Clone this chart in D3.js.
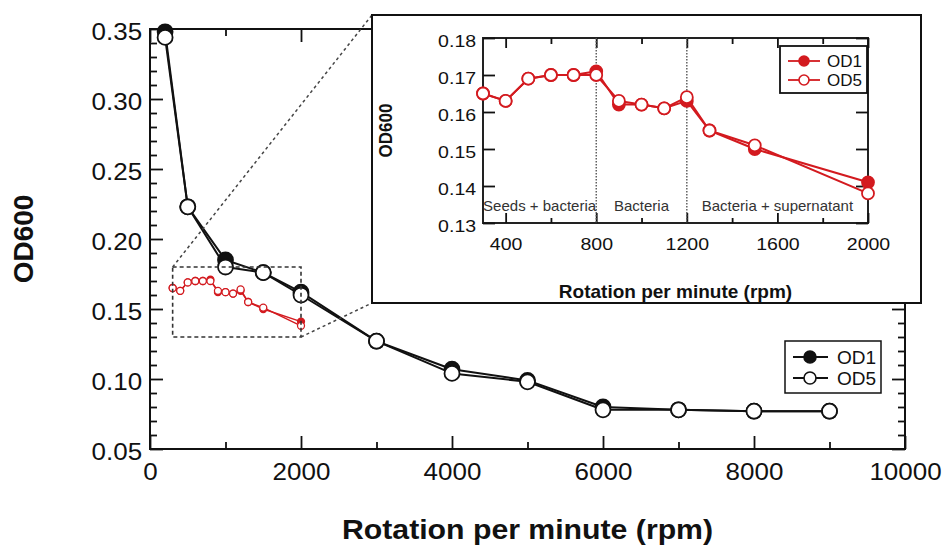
<!DOCTYPE html>
<html>
<head>
<meta charset="utf-8">
<script src="https://cdn.jsdelivr.net/npm/d3@7"></script>
<style>
  body { margin: 0; background: #fff; }
  svg { display: block; font-family: "Liberation Sans", Arial, Helvetica, sans-serif; }
</style>
</head>
<body>
<div id="chart"></div>
<script>
// Values
const rpmMain = [200, 500, 1000, 1500, 2000, 3000, 4000, 5000, 6000, 7000, 8000, 9000];
const od1Main = [0.348, 0.223, 0.185, 0.176, 0.162, 0.127, 0.107, 0.099, 0.080, 0.078, 0.077, 0.077];
const od5Main = [0.344, 0.223, 0.180, 0.176, 0.160, 0.127, 0.104, 0.098, 0.078, 0.078, 0.077, 0.077];

const rpmZoom = [300, 400, 500, 600, 700, 800, 900, 1000, 1100, 1200, 1300, 1500, 2000];
const od1Zoom = [0.165, 0.163, 0.169, 0.170, 0.170, 0.171, 0.162, 0.162, 0.161, 0.163, 0.155, 0.150, 0.141];
const od5Zoom = [0.165, 0.163, 0.169, 0.170, 0.170, 0.170, 0.163, 0.162, 0.161, 0.164, 0.155, 0.151, 0.138];

const mainXTicks = [0, 2000, 4000, 6000, 8000, 10000];
const mainXMinor = [1000, 3000, 5000, 7000, 9000];
const mainYTicks = [0.05, 0.10, 0.15, 0.20, 0.25, 0.30, 0.35];
const zoomXTicks = [400, 800, 1200, 1600, 2000];
const zoomXMinor = [600, 1000, 1400, 1800];
const zoomYTicks = [0.13, 0.14, 0.15, 0.16, 0.17, 0.18];
const phaseBreaks = [300, 800, 1200, 2000];
const phaseLabels = ["Seeds + bacteria", "Bacteria", "Bacteria + supernatant"];
const seriesNames = ["OD1", "OD5"];

const red = "#d31a1f";
const ink = "#111";

const svg = d3.select("#chart").append("svg")
    .attr("width", 944)
    .attr("height", 546);

// ---------- main plot ----------
const m = {left: 150, right: 905, top: 29, bottom: 449};
const x = d3.scaleLinear().domain([0, 10000]).range([m.left, m.right]);
const y = d3.scaleLinear().domain([0.05, 0.35]).range([m.bottom, m.top]);

const mainYMinor = d3.range(5, 35).filter(i => i % 5 !== 0).map(i => i / 100);

function styleAxis(sel, size, stretch) {
    sel.select(".domain").remove();
    sel.selectAll("line").attr("stroke", ink).attr("stroke-width", 1.8);
    sel.selectAll("text")
        .attr("fill", ink)
        .attr("font-size", size)
        .attr("font-family", "Liberation Sans, Arial, sans-serif")
        .attr("transform", `scale(${stretch},1)`);
}

const main = svg.append("g");

main.append("rect")
    .attr("x", m.left).attr("y", m.top)
    .attr("width", m.right - m.left).attr("height", m.bottom - m.top)
    .attr("fill", "none").attr("stroke", ink).attr("stroke-width", 2);

main.append("g").attr("transform", `translate(0,${m.bottom})`)
    .call(d3.axisBottom(x).tickValues(mainXTicks).tickSizeInner(-13).tickSizeOuter(0)
        .tickPadding(15).tickFormat(d3.format("d")))
    .call(g => styleAxis(g, 23, 1.13));
main.append("g").attr("transform", `translate(0,${m.bottom})`)
    .call(d3.axisBottom(x).tickValues(mainXMinor).tickSizeInner(-7).tickSizeOuter(0).tickFormat(""))
    .call(g => styleAxis(g, 23, 1));
main.append("g").attr("transform", `translate(0,${m.top})`)
    .call(d3.axisTop(x).tickValues(mainXTicks).tickSizeInner(-13).tickSizeOuter(0).tickFormat(""))
    .call(g => styleAxis(g, 23, 1));
main.append("g").attr("transform", `translate(0,${m.top})`)
    .call(d3.axisTop(x).tickValues(mainXMinor).tickSizeInner(-7).tickSizeOuter(0).tickFormat(""))
    .call(g => styleAxis(g, 23, 1));

main.append("g").attr("transform", `translate(${m.left},0)`)
    .call(d3.axisLeft(y).tickValues(mainYTicks).tickSizeInner(-13).tickSizeOuter(0)
        .tickPadding(7).tickFormat(d3.format(".2f")))
    .call(g => styleAxis(g, 23, 1.13))
    .call(g => g.selectAll("text").attr("dy", "0.45em"));
main.append("g").attr("transform", `translate(${m.left},0)`)
    .call(d3.axisLeft(y).tickValues(mainYMinor).tickSizeInner(-7).tickSizeOuter(0).tickFormat(""))
    .call(g => styleAxis(g, 23, 1));
main.append("g").attr("transform", `translate(${m.right},0)`)
    .call(d3.axisRight(y).tickValues(mainYTicks).tickSizeInner(-13).tickSizeOuter(0).tickFormat(""))
    .call(g => styleAxis(g, 23, 1));
main.append("g").attr("transform", `translate(${m.right},0)`)
    .call(d3.axisRight(y).tickValues(mainYMinor).tickSizeInner(-7).tickSizeOuter(0).tickFormat(""))
    .call(g => styleAxis(g, 23, 1));

main.append("text")
    .attr("transform", `translate(${(m.left + m.right) / 2},539) scale(1.08,1)`)
    .attr("text-anchor", "middle")
    .attr("font-size", 28).attr("font-weight", "bold").attr("fill", ink)
    .text("Rotation per minute (rpm)");
main.append("text")
    .attr("transform", `translate(33,${(m.top + m.bottom) / 2}) rotate(-90)`)
    .attr("text-anchor", "middle")
    .attr("font-size", 28).attr("font-weight", "bold").attr("fill", ink)
    .text("OD600");

function drawSeries(g, xs, ys, xv, vals, color, filled, r, lw) {
    const line = d3.line().x((d, i) => xs(xv[i])).y(d => ys(d));
    g.append("path")
        .attr("d", line(vals))
        .attr("fill", "none").attr("stroke", color).attr("stroke-width", lw)
        .attr("stroke-linejoin", "round");
    g.append("g").selectAll("circle")
        .data(vals)
        .join("circle")
        .attr("cx", (d, i) => xs(xv[i]))
        .attr("cy", d => ys(d))
        .attr("r", r)
        .attr("fill", filled ? color : "#fff")
        .attr("stroke", color)
        .attr("stroke-width", lw * 0.9);
}

drawSeries(main, x, y, rpmMain, od1Main, ink, true, 7.5, 2);
drawSeries(main, x, y, rpmMain, od5Main, ink, false, 7.5, 2);

// zoomed data shown at the main scale
drawSeries(main, x, y, rpmZoom, od1Zoom, red, true, 3.5, 1.4);
drawSeries(main, x, y, rpmZoom, od5Zoom, red, false, 3.5, 1.4);

// zoom box and connectors
const zx0 = x(rpmZoom[0]), zx1 = x(2000), zy0 = y(0.18), zy1 = y(0.13);
main.append("rect")
    .attr("x", zx0).attr("y", zy0)
    .attr("width", zx1 - zx0).attr("height", zy1 - zy0)
    .attr("fill", "none").attr("stroke", "#333").attr("stroke-width", 1.6)
    .attr("stroke-dasharray", "4,3");

// main legend
const leg = main.append("g");
leg.append("rect").attr("x", 785).attr("y", 341).attr("width", 96).attr("height", 52)
    .attr("fill", "#fff").attr("stroke", ink).attr("stroke-width", 1.5);
seriesNames.forEach((name, i) => {
    const ly = 357 + i * 21;
    leg.append("line").attr("x1", 793).attr("x2", 828).attr("y1", ly).attr("y2", ly)
        .attr("stroke", ink).attr("stroke-width", 1.8);
    leg.append("circle").attr("cx", 810).attr("cy", ly).attr("r", 6)
        .attr("fill", i === 0 ? ink : "#fff").attr("stroke", ink).attr("stroke-width", 1.6);
    leg.append("text").attr("x", 837).attr("y", ly + 7)
        .attr("font-size", 19).attr("fill", ink).text(name);
});

// ---------- inset ----------
const box = {left: 372, right: 921, top: 15, bottom: 303};
const im = {left: 483, right: 868, top: 38, bottom: 223};

main.append("line").attr("x1", zx0).attr("y1", zy0).attr("x2", box.left).attr("y2", box.top)
    .attr("stroke", "#444").attr("stroke-width", 1.5).attr("stroke-dasharray", "3,3");
main.append("line").attr("x1", zx1).attr("y1", zy1).attr("x2", box.left).attr("y2", box.bottom)
    .attr("stroke", "#444").attr("stroke-width", 1.5).attr("stroke-dasharray", "3,3");

const inset = svg.append("g");
inset.append("rect")
    .attr("x", box.left).attr("y", box.top)
    .attr("width", box.right - box.left).attr("height", box.bottom - box.top)
    .attr("fill", "#fff").attr("stroke", ink).attr("stroke-width", 2);

const xi = d3.scaleLinear().domain([300, 2000]).range([im.left, im.right]);
const yi = d3.scaleLinear().domain([0.13, 0.18]).range([im.bottom, im.top]);

inset.append("rect")
    .attr("x", im.left).attr("y", im.top)
    .attr("width", im.right - im.left).attr("height", im.bottom - im.top)
    .attr("fill", "none").attr("stroke", "#222").attr("stroke-width", 2);

inset.append("g").attr("transform", `translate(0,${im.bottom})`)
    .call(d3.axisBottom(xi).tickValues(zoomXTicks).tickSizeInner(-10).tickSizeOuter(0)
        .tickPadding(15).tickFormat(d3.format("d")))
    .call(g => styleAxis(g, 17, 1.15));
inset.append("g").attr("transform", `translate(0,${im.bottom})`)
    .call(d3.axisBottom(xi).tickValues(zoomXMinor).tickSizeInner(-5).tickSizeOuter(0).tickFormat(""))
    .call(g => styleAxis(g, 17, 1));
inset.append("g").attr("transform", `translate(0,${im.top})`)
    .call(d3.axisTop(xi).tickValues(zoomXTicks).tickSizeInner(-10).tickSizeOuter(0).tickFormat(""))
    .call(g => styleAxis(g, 17, 1));
inset.append("g").attr("transform", `translate(0,${im.top})`)
    .call(d3.axisTop(xi).tickValues(zoomXMinor).tickSizeInner(-6).tickSizeOuter(0).tickFormat(""))
    .call(g => styleAxis(g, 17, 1));
inset.append("g").attr("transform", `translate(${im.left},0)`)
    .call(d3.axisLeft(yi).tickValues(zoomYTicks).tickSizeInner(-12).tickSizeOuter(0)
        .tickPadding(6).tickFormat(d3.format(".2f")))
    .call(g => styleAxis(g, 17, 1.15))
    .call(g => g.selectAll("text").attr("dy", "0.47em"));
inset.append("g").attr("transform", `translate(${im.right},0)`)
    .call(d3.axisRight(yi).tickValues(zoomYTicks).tickSizeInner(-12).tickSizeOuter(0).tickFormat(""))
    .call(g => styleAxis(g, 17, 1));

// phase separators and labels
inset.append("g").selectAll("line")
    .data(phaseBreaks.slice(1, -1))
    .join("line")
    .attr("x1", d => xi(d)).attr("x2", d => xi(d))
    .attr("y1", im.top).attr("y2", im.bottom)
    .attr("stroke", "#555").attr("stroke-width", 1.4).attr("stroke-dasharray", "1.5,1.5");
inset.append("g").selectAll("text")
    .data(phaseLabels)
    .join("text")
    .attr("x", (d, i) => (xi(phaseBreaks[i]) + xi(phaseBreaks[i + 1])) / 2)
    .attr("y", 211)
    .attr("text-anchor", "middle")
    .attr("font-size", 15).attr("fill", "#333")
    .text(d => d);

drawSeries(inset, xi, yi, rpmZoom, od1Zoom, red, true, 6, 2);
drawSeries(inset, xi, yi, rpmZoom, od5Zoom, red, false, 6, 2);

inset.append("text")
    .attr("transform", `translate(${(im.left + im.right) / 2},298)`)
    .attr("text-anchor", "middle")
    .attr("font-size", 19).attr("font-weight", "bold").attr("fill", ink)
    .text("Rotation per minute (rpm)");
inset.append("text")
    .attr("transform", `translate(392,${(im.top + im.bottom) / 2}) rotate(-90) scale(1,1.1)`)
    .attr("text-anchor", "middle")
    .attr("font-size", 17).attr("font-weight", "bold").attr("fill", ink)
    .text("OD600");

// inset legend
const ileg = inset.append("g");
ileg.append("rect").attr("x", 780).attr("y", 46).attr("width", 87).attr("height", 47)
    .attr("fill", "#fff").attr("stroke", ink).attr("stroke-width", 1.8);
seriesNames.forEach((name, i) => {
    const ly = 61 + i * 19;
    ileg.append("line").attr("x1", 788).attr("x2", 820).attr("y1", ly).attr("y2", ly)
        .attr("stroke", red).attr("stroke-width", 1.8);
    ileg.append("circle").attr("cx", 804).attr("cy", ly).attr("r", 5)
        .attr("fill", i === 0 ? red : "#fff").attr("stroke", red).attr("stroke-width", 1.6);
    ileg.append("text").attr("x", 827).attr("y", ly + 6)
        .attr("font-size", 17).attr("fill", ink).text(name);
});
</script>
</body>
</html>
